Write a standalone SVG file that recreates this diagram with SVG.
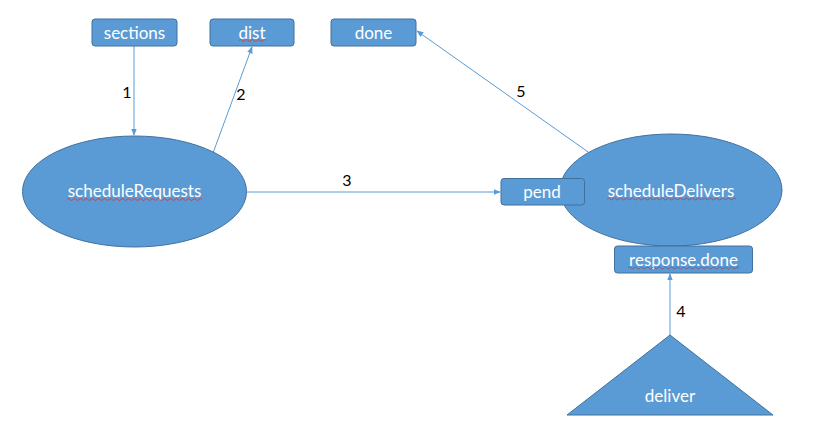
<svg xmlns="http://www.w3.org/2000/svg" width="815" height="435" viewBox="0 0 815 435">
<style>
.shape{fill:#5B9BD5;stroke:#41719C;stroke-width:1}
.t{font-family:Lato,"Open Sans",sans-serif;font-size:17px;fill:#fff;text-anchor:middle;dominant-baseline:central}
.lbl{font-family:Lato,"Open Sans",sans-serif;font-size:16px;fill:#000;text-anchor:middle;dominant-baseline:central}
.c{stroke:#5B9BD5;stroke-width:1;fill:none;marker-end:url(#ah)}
.sq{stroke:#E03030;stroke-width:0.8;fill:none}
</style>
<defs>
<marker id="ah" viewBox="0 0 10 10" refX="9" refY="5" markerWidth="7" markerHeight="7" orient="auto" markerUnits="userSpaceOnUse">
<path d="M0,1 L10,5 L0,9 z" fill="#5B9BD5"/>
</marker>
</defs>
<rect width="815" height="435" fill="#fff"/>
<g id="connectors">
<line class="c" x1="134" y1="46" x2="134" y2="135"/>
<line class="c" x1="213" y1="153" x2="252" y2="47"/>
<line class="c" x1="247" y1="192" x2="500" y2="192"/>
<line class="c" x1="670" y1="335" x2="670" y2="274"/>
<line class="c" x1="591" y1="154" x2="417" y2="31"/>
<text class="lbl" x="127" y="91">1</text>
<text class="lbl" x="241" y="93">2</text>
<text class="lbl" x="347" y="179">3</text>
<text class="lbl" x="681" y="310">4</text>
<text class="lbl" x="521" y="90">5</text>
</g>
<g id="sections">
<rect class="shape" x="92" y="19" width="85" height="27" rx="3"/>
<text class="t" x="134.5" y="32.5">sections</text>
</g>
<g id="dist">
<rect class="shape" x="210" y="19" width="84" height="27" rx="3"/>
<text class="t" x="252" y="32.5">dist</text>
<path class="sq" d="M239,40.5 q1.5,-2 3,0 t3,0 t3,0 t3,0 t3,0 t3,0 t3,0 t3,0 t3,0"/>
</g>
<g id="done">
<rect class="shape" x="331" y="19" width="85" height="27" rx="3"/>
<text class="t" x="373.5" y="32.5">done</text>
</g>
<g id="scheduleRequests">
<ellipse class="shape" cx="134.5" cy="191.5" rx="112" ry="55.5"/>
<text class="t" x="134.5" y="190.5">scheduleRequests</text>
<path class="sq" d="M67,199.5 q1.5,-2 3,0 t3,0 t3,0 t3,0 t3,0 t3,0 t3,0 t3,0 t3,0 t3,0 t3,0 t3,0 t3,0 t3,0 t3,0 t3,0 t3,0 t3,0 t3,0 t3,0 t3,0 t3,0 t3,0 t3,0 t3,0 t3,0 t3,0 t3,0 t3,0 t3,0 t3,0 t3,0 t3,0 t3,0 t3,0 t3,0 t3,0 t3,0 t3,0 t3,0 t3,0 t3,0 t3,0 t3,0 t3,0"/>
</g>
<g id="scheduleDelivers">
<ellipse class="shape" cx="671" cy="190" rx="111" ry="56"/>
<text class="t" x="671" y="190">scheduleDelivers</text>
<path class="sq" d="M607,199 q1.5,-2 3,0 t3,0 t3,0 t3,0 t3,0 t3,0 t3,0 t3,0 t3,0 t3,0 t3,0 t3,0 t3,0 t3,0 t3,0 t3,0 t3,0 t3,0 t3,0 t3,0 t3,0 t3,0 t3,0 t3,0 t3,0 t3,0 t3,0 t3,0 t3,0 t3,0 t3,0 t3,0 t3,0 t3,0 t3,0 t3,0 t3,0 t3,0 t3,0 t3,0 t3,0 t3,0 t3,0"/>
</g>
<g id="pend">
<rect class="shape" x="501" y="178.5" width="83.5" height="26.5" rx="3"/>
<text class="t" x="542" y="191.5">pend</text>
</g>
<g id="response.done">
<rect class="shape" x="614.5" y="246" width="138" height="27" rx="3"/>
<text class="t" x="683.5" y="259.5">response.done</text>
<path class="sq" d="M628,268 q1.5,-2 3,0 t3,0 t3,0 t3,0 t3,0 t3,0 t3,0 t3,0 t3,0 t3,0 t3,0 t3,0 t3,0 t3,0 t3,0 t3,0 t3,0 t3,0 t3,0 t3,0 t3,0 t3,0 t3,0 t3,0 t3,0 t3,0 t3,0 t3,0 t3,0 t3,0 t3,0 t3,0 t3,0 t3,0 t3,0 t3,0 t3,0"/>
</g>
<g id="deliver">
<polygon class="shape" points="670,335 773,415 567,415"/>
<text class="t" x="670" y="395">deliver</text>
</g>
</svg>
